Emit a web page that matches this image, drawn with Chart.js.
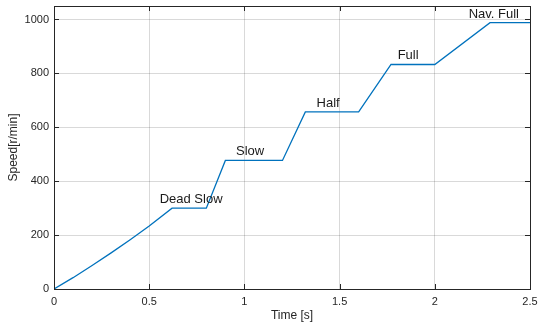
<!DOCTYPE html>
<html>
<head>
<meta charset="utf-8">
<script src="https://cdn.jsdelivr.net/npm/chart.js@4/dist/chart.umd.min.js"></script>
<style>
  html, body { margin: 0; padding: 0; background: #fff; }
  #wrap { width: 538px; height: 329px; }
</style>
</head>
<body>
<div id="wrap"><canvas id="c" width="538" height="329"></canvas></div>
<script>
// Engine speed run-up profile
const timeS    = [0, 0.1, 0.2, 0.3, 0.4, 0.5, 0.62, 0.8, 0.9, 1.2, 1.32, 1.6, 1.77, 2.0, 2.29, 2.5];
const speedRpm = [0, 42, 87, 134, 183, 234, 300, 300, 477, 477, 657, 657, 833, 833, 988, 988];

// Telegraph order labels placed over each plateau
const orderNames = ['Dead Slow', 'Slow', 'Half', 'Full', 'Nav. Full'];
const orderTime  = [0.72, 1.03, 1.44, 1.86, 2.31];
const orderSpeed = [300, 477, 657, 833, 988];

const xTicks = [0, 0.5, 1, 1.5, 2, 2.5];
const yTicks = [0, 200, 400, 600, 800, 1000];

const FONT = '"Liberation Sans", Arial, Helvetica, sans-serif';

// Box around the axes with short inward ticks on all four sides
const boxPlugin = {
  id: 'box',
  afterDraw(chart) {
    const { ctx, chartArea: a, scales } = chart;
    const L = 5;
    ctx.save();
    ctx.strokeStyle = '#262626';
    ctx.lineWidth = 1;
    ctx.beginPath();
    xTicks.forEach(v => {
      const x = Math.round(scales.x.getPixelForValue(v)) + 0.5;
      ctx.moveTo(x, a.bottom); ctx.lineTo(x, a.bottom - L);
      ctx.moveTo(x, a.top);    ctx.lineTo(x, a.top + L);
    });
    yTicks.forEach(v => {
      const y = Math.round(scales.y.getPixelForValue(v)) + 0.5;
      ctx.moveTo(a.left, y);  ctx.lineTo(a.left + L, y);
      ctx.moveTo(a.right, y); ctx.lineTo(a.right - L, y);
    });
    ctx.stroke();
    ctx.strokeRect(Math.round(a.left) + 0.5, Math.round(a.top) + 0.5,
                   Math.round(a.right - a.left), Math.round(a.bottom - a.top));
    ctx.restore();
  }
};

// Text labels anchored in data coordinates
const orderLabelPlugin = {
  id: 'orderLabels',
  afterDatasetsDraw(chart) {
    const { ctx, scales } = chart;
    ctx.save();
    ctx.font = '13px ' + FONT;
    ctx.fillStyle = '#1a1a1a';
    ctx.textAlign = 'center';
    ctx.textBaseline = 'alphabetic';
    orderNames.forEach((name, i) => {
      const x = scales.x.getPixelForValue(orderTime[i]);
      const y = scales.y.getPixelForValue(orderSpeed[i]);
      ctx.fillText(name, x, y - 5);
    });
    ctx.restore();
  }
};

new Chart(document.getElementById('c'), {
  type: 'scatter',
  data: {
    datasets: [{
      data: timeS.map((t, i) => ({ x: t, y: speedRpm[i] })),
      showLine: true,
      borderColor: '#0072BD',
      borderWidth: 1.3,
      pointRadius: 0,
      tension: 0
    }]
  },
  options: {
    responsive: false,
    animation: false,
    devicePixelRatio: 1,
    layout: { padding: { left: 0, right: 8, top: 6, bottom: 0 } },
    plugins: { legend: { display: false }, tooltip: { enabled: false } },
    scales: {
      x: {
        type: 'linear',
        min: 0, max: 2.5,
        afterBuildTicks(s) { s.ticks = xTicks.map(v => ({ value: v })); },
        afterFit(s) { s.height = 40; s.paddingLeft = 0; s.paddingRight = 0; },
        border: { display: false },
        grid: { color: 'rgba(0,0,0,0.15)', lineWidth: 1, drawTicks: false },
        ticks: { color: '#262626', font: { family: FONT, size: 11 }, padding: 6, maxRotation: 0,
                 callback: v => String(v) },
        title: { display: true, text: 'Time [s]', color: '#262626', font: { family: FONT, size: 12 }, padding: { top: 0, bottom: 6 } }
      },
      y: {
        min: 0, max: 1050,
        afterBuildTicks(s) { s.ticks = yTicks.map(v => ({ value: v })); },
        afterFit(s) { s.width = 54; s.paddingTop = 0; s.paddingBottom = 0; },
        border: { display: false },
        grid: { color: 'rgba(0,0,0,0.15)', lineWidth: 1, drawTicks: false },
        ticks: { color: '#262626', font: { family: FONT, size: 11 }, padding: 5,
                 callback: v => String(v) },
        title: { display: true, text: 'Speed[r/min]', color: '#262626', font: { family: FONT, size: 12 }, padding: { top: 6, bottom: 0 } }
      }
    }
  },
  plugins: [boxPlugin, orderLabelPlugin]
});
</script>
</body>
</html>
